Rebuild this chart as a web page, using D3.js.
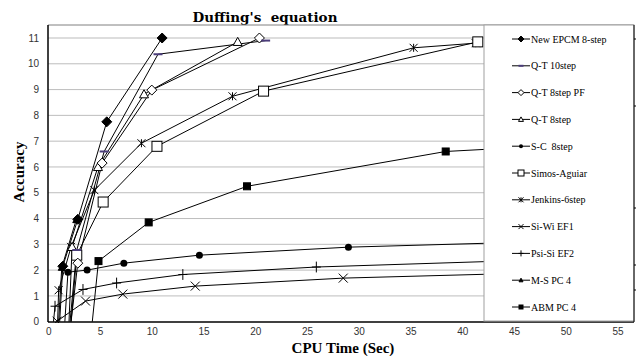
<!DOCTYPE html>
<html>
<head>
<meta charset="utf-8">
<script src="https://cdn.jsdelivr.net/npm/d3@7"></script>
<style>
  body { margin: 0; background: #fff; }
  svg { display: block; }
</style>
</head>
<body>
<svg id="svg" width="636" height="356"></svg>
<script>
//Data (CPU time in sec, accuracy)
const SERIES_NAMES = ["New EPCM 8-step", "Q-T 10step", "Q-T 8step PF", "Q-T 8step", "S-C  8step", "Simos-Aguiar",
    "Jenkins-6step", "Si-Wi EF1", "Psi-Si EF2", "M-S PC 4", "ABM PC 4"];
const MARKERS = ["diamondFilled", "dash", "diamondOpen", "triangleOpen", "circle", "squareOpen",
    "asterisk", "cross", "plus", "triangleFilled", "squareFilled"];

const EPCM_X = [1.1, 1.4, 2.85, 5.65, 11.0];
const EPCM_Y = [0, 2.15, 3.97, 7.75, 11.0];
const QT10_X = [2.1, 2.75, 5.4, 10.6, 21.0];
const QT10_Y = [0, 2.78, 6.6, 10.37, 10.9];
const QT8PF_X = [2.2, 2.85, 5.2, 10.0, 20.4];
const QT8PF_Y = [0, 2.27, 6.15, 8.98, 11.0];
const QT8_X = [2.0, 2.3, 4.8, 9.25, 18.3];
const QT8_Y = [0, 2.9, 6.0, 8.82, 10.85];
const SC_X = [1.6, 1.9, 3.75, 7.3, 14.6, 29.0, 58.0];
const SC_Y = [0, 1.92, 2.0, 2.27, 2.58, 2.89, 3.22];
const SA_X = [2.2, 2.75, 5.3, 10.5, 20.8, 41.5];
const SA_Y = [0, 2.58, 4.64, 6.8, 8.94, 10.85];
const JK_X = [0.9, 1.0, 2.2, 4.45, 9.0, 17.8, 35.3, 41.3];
const JK_Y = [0, 1.22, 2.9, 5.1, 6.92, 8.74, 10.62, 10.8];
const SW_X = [0.85, 3.6, 7.2, 14.2, 28.5, 57.0];
const SW_Y = [0.02, 0.8, 1.07, 1.38, 1.69, 2.0];
const PS_X = [0.5, 0.65, 3.35, 6.6, 13.0, 25.9, 57.0];
const PS_Y = [0, 0.6, 1.25, 1.5, 1.83, 2.12, 2.52];
const MS_X = [1.0, 1.3, 2.7];
const MS_Y = [0, 2.1, 3.95];
const ABM_X = [4.25, 4.85, 9.7, 19.2, 38.4, 57.0];
const ABM_Y = [0, 2.35, 3.85, 5.25, 6.6, 7.0];

const ALL_X = [EPCM_X, QT10_X, QT8PF_X, QT8_X, SC_X, SA_X, JK_X, SW_X, PS_X, MS_X, ABM_X];
const ALL_Y = [EPCM_Y, QT10_Y, QT8PF_Y, QT8_Y, SC_Y, SA_Y, JK_Y, SW_Y, PS_Y, MS_Y, ABM_Y];
const X_TICKS = [0, 5, 10, 15, 20, 25, 30, 35, 40, 45, 50, 55];
const Y_TICKS = [0, 1, 2, 3, 4, 5, 6, 7, 8, 9, 10, 11];

const SVG = d3.select("#svg");
const PLOT_LEFT = 48, PLOT_RIGHT = 634, PLOT_TOP = 25, PLOT_BOTTOM = 322;
const LEGEND_LEFT = 484;

let x_scale = d3.scaleLinear().domain([0, 55]).range([48.3, 617.5]);
let y_scale = d3.scaleLinear().domain([0, 11]).range([321.7, 38]);

//Title
SVG.append("text")
    .attr("x", 265).attr("y", 22)
    .attr("text-anchor", "middle")
    .attr("font-family", "DejaVu Serif").attr("font-weight", "bold").attr("font-size", 13.5)
    .attr("xml:space", "preserve")
    .text("Duffing's  equation");

//Top border
SVG.append("line").attr("x1", PLOT_LEFT).attr("x2", PLOT_RIGHT).attr("y1", PLOT_TOP).attr("y2", PLOT_TOP)
    .attr("stroke", "#808080").attr("stroke-width", 1);

//Gridlines
SVG.append("g").selectAll("line")
    .data(Y_TICKS.filter(d => d > 0))
    .enter().append("line")
    .attr("x1", PLOT_LEFT).attr("x2", PLOT_RIGHT)
    .attr("y1", d => y_scale(d)).attr("y2", d => y_scale(d))
    .attr("stroke", d => d === 11 ? "#dddddd" : "#bdbdbd")
    .attr("stroke-width", d => d === 11 ? 2 : 1);

//Axes
let x_axis = d3.axisBottom(x_scale).tickValues(X_TICKS).tickSize(0).tickPadding(6);
let y_axis = d3.axisLeft(y_scale).tickValues(Y_TICKS).tickSize(0).tickPadding(9);

let gx = SVG.append("g").attr("transform", "translate(0," + PLOT_BOTTOM + ")").call(x_axis);
let gy = SVG.append("g").attr("transform", "translate(" + PLOT_LEFT + ",0)").call(y_axis);
[gx, gy].forEach(g => {
    g.select(".domain").remove();
    g.selectAll(".tick text").attr("font-family", "Liberation Sans").attr("font-size", 10).attr("fill", "#333");
});

//Clip
SVG.append("clipPath").attr("id", "plotclip")
    .append("rect").attr("x", PLOT_LEFT).attr("y", PLOT_TOP).attr("width", PLOT_RIGHT - PLOT_LEFT).attr("height", PLOT_BOTTOM - PLOT_TOP + 1);

let plot = SVG.append("g").attr("clip-path", "url(#plotclip)");

let line = d3.line().x(p => x_scale(p[0])).y(p => y_scale(p[1]));

function drawMarker(g, type, cx, cy, s)
{
    let h = s / 2;
    if (type === "diamondFilled" || type === "diamondOpen") {
        g.append("path").attr("d", `M${cx},${cy - h}L${cx + h},${cy}L${cx},${cy + h}L${cx - h},${cy}Z`)
            .attr("fill", type === "diamondFilled" ? "#000" : "#fff").attr("stroke", "#000").attr("stroke-width", 1);
    } else if (type === "dash") {
        g.append("line").attr("x1", cx - h).attr("x2", cx + h).attr("y1", cy).attr("y2", cy)
            .attr("stroke", "#4b3d7a").attr("stroke-width", 2);
    } else if (type === "triangleOpen" || type === "triangleFilled") {
        g.append("path").attr("d", `M${cx},${cy - h}L${cx + h},${cy + h * 0.8}L${cx - h},${cy + h * 0.8}Z`)
            .attr("fill", type === "triangleFilled" ? "#000" : "#fff").attr("stroke", "#000").attr("stroke-width", 1);
    } else if (type === "circle") {
        g.append("circle").attr("cx", cx).attr("cy", cy).attr("r", h).attr("fill", "#000");
    } else if (type === "squareOpen" || type === "squareFilled") {
        g.append("rect").attr("x", cx - h).attr("y", cy - h).attr("width", s).attr("height", s)
            .attr("fill", type === "squareFilled" ? "#000" : "#fff").attr("stroke", "#000").attr("stroke-width", 1);
    } else if (type === "asterisk") {
        g.append("path").attr("d", `M${cx - h},${cy - h}L${cx + h},${cy + h}M${cx - h},${cy + h}L${cx + h},${cy - h}M${cx},${cy - h}L${cx},${cy + h}`)
            .attr("stroke", "#000").attr("stroke-width", 1).attr("fill", "none");
    } else if (type === "cross") {
        g.append("path").attr("d", `M${cx - h},${cy - h}L${cx + h},${cy + h}M${cx - h},${cy + h}L${cx + h},${cy - h}`)
            .attr("stroke", "#000").attr("stroke-width", 1).attr("fill", "none");
    } else if (type === "plus") {
        g.append("path").attr("d", `M${cx - h},${cy}L${cx + h},${cy}M${cx},${cy - h * 1.2}L${cx},${cy + h * 1.2}`)
            .attr("stroke", "#000").attr("stroke-width", 1).attr("fill", "none");
    }
}

const MARKER_SIZE = {diamondFilled: 10, dash: 9, diamondOpen: 10, triangleOpen: 9, circle: 7, squareOpen: 10,
    asterisk: 8, cross: 9, plus: 9, triangleFilled: 7, squareFilled: 7};

//Draw series (last series underneath)
for (let i = ALL_X.length - 1; i >= 0; i--) {
    let pts = ALL_X[i].map((x, j) => [x, ALL_Y[i][j]]);
    plot.append("path").attr("d", line(pts)).attr("fill", "none").attr("stroke", "#000").attr("stroke-width", 1);
}
for (let i = ALL_X.length - 1; i >= 0; i--) {
    let g = plot.append("g");
    ALL_X[i].forEach((x, j) => {
        if (ALL_Y[i][j] === 0) return;
        drawMarker(g, MARKERS[i], x_scale(x), y_scale(ALL_Y[i][j]), MARKER_SIZE[MARKERS[i]]);
    });
}

//Axis lines
SVG.append("line").attr("x1", PLOT_LEFT).attr("x2", PLOT_LEFT).attr("y1", PLOT_TOP).attr("y2", PLOT_BOTTOM)
    .attr("stroke", "#000").attr("stroke-width", 1.5);
SVG.append("line").attr("x1", PLOT_LEFT).attr("x2", PLOT_RIGHT).attr("y1", PLOT_BOTTOM).attr("y2", PLOT_BOTTOM)
    .attr("stroke", "#000").attr("stroke-width", 1.5);

//Axis titles
SVG.append("text")
    .attr("x", 343).attr("y", 353)
    .attr("text-anchor", "middle")
    .attr("font-family", "Liberation Serif").attr("font-weight", "bold").attr("font-size", 15)
    .text("CPU Time (Sec)");
SVG.append("text")
    .attr("transform", "translate(24,172) rotate(-90)")
    .attr("text-anchor", "middle")
    .attr("font-family", "Liberation Serif").attr("font-weight", "bold").attr("font-size", 15)
    .text("Accuracy");

//Legend
let legend = SVG.append("g");
legend.append("rect")
    .attr("x", LEGEND_LEFT).attr("y", PLOT_TOP).attr("width", PLOT_RIGHT - LEGEND_LEFT).attr("height", PLOT_BOTTOM - PLOT_TOP - 1)
    .attr("fill", "#fff").attr("stroke", "#a0a0a0").attr("stroke-width", 1);
SVG.append("line").attr("x1", PLOT_RIGHT).attr("x2", PLOT_RIGHT).attr("y1", PLOT_TOP).attr("y2", PLOT_BOTTOM)
    .attr("stroke", "#000").attr("stroke-width", 1);
SVG.append("g").selectAll("line")
    .data([39, 106, 208, 265, 290])
    .enter().append("line")
    .attr("x1", PLOT_RIGHT).attr("x2", PLOT_RIGHT + 3).attr("y1", d => d).attr("y2", d => d)
    .attr("stroke", "#000");

SERIES_NAMES.forEach((name, i) => {
    let y = 39 + i * 26.8;
    let g = legend.append("g");
    g.append("line").attr("x1", 512).attr("x2", 530).attr("y1", y).attr("y2", y).attr("stroke", "#000");
    let s = Math.round(MARKER_SIZE[MARKERS[i]] * 0.6);
    drawMarker(g, MARKERS[i], 521, y, s);
    g.append("text").attr("x", 531).attr("y", y + 3.5)
        .attr("font-family", "Liberation Serif").attr("font-size", 10)
        .attr("xml:space", "preserve")
        .text(name);
});
</script>
</body>
</html>
